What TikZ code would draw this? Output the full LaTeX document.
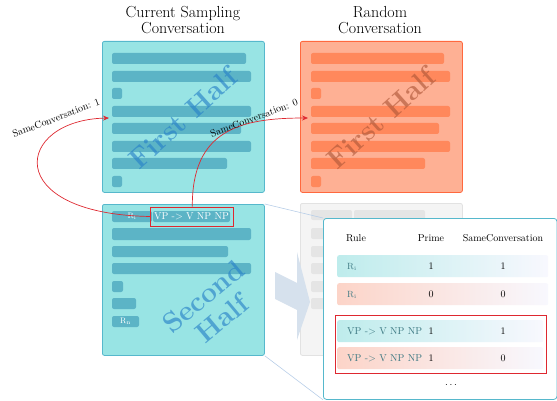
\documentclass[tikz,border=0pt]{standalone}
\usepackage{tikz}
\usetikzlibrary{arrows.meta}

\definecolor{tealfill}{RGB}{152,228,228}
\definecolor{tealbar}{RGB}{92,180,198}
\definecolor{tealline}{RGB}{86,184,204}
\definecolor{redfill}{RGB}{254,176,148}
\definecolor{redbar}{RGB}{255,136,92}
\definecolor{redline}{RGB}{255,104,62}
\definecolor{grayfill}{RGB}{244,244,244}
\definecolor{grayline}{RGB}{226,226,226}
\definecolor{graybar}{RGB}{229,229,229}
\definecolor{markred}{RGB}{222,40,48}
\definecolor{wmblue}{RGB}{40,130,200}
\definecolor{wmbrown}{RGB}{177,89,58}
\definecolor{zoomline}{RGB}{184,206,232}
\definecolor{bigarrow}{RGB}{214,225,237}
\definecolor{rowteal}{RGB}{190,236,236}
\definecolor{rowred}{RGB}{252,212,200}
\definecolor{rowend}{RGB}{248,248,254}
\definecolor{ruletext}{RGB}{60,120,130}

\begin{document}
\begin{tikzpicture}[x=1pt,y=-1pt,
  box/.style={rectangle,rounded corners=2pt,anchor=north west,line width=0.8pt,minimum width=162pt,minimum height=151pt},
  bar/.style={rounded corners=2pt},
  title/.style={align=center,inner sep=0pt,anchor=north,font={\fontsize{16}{15.6}\selectfont}},
  wmark/.style={align=center,inner sep=0pt,font={\fontsize{28}{29}\selectfont\bfseries},text opacity=0.65},
  tag/.style={inner sep=0pt,rotate=21},
  samearrow/.style={markred,line width=0.7pt,-{Stealth[length=6pt,width=5pt]}},
  row/.style={rectangle,rounded corners=2pt,anchor=north west,minimum height=22pt,inner sep=0pt},
  cell/.style={anchor=base,inner sep=0pt}]
\useasboundingbox (0,0) rectangle (557,401);

% titles
\node[title] (t1) at (183,6.3) {Current Sampling\\Conversation};
\node[title] (t2) at (380,6.3) {Random\\Conversation};

% the two conversations
\node[box,fill=tealfill,draw=tealline] (first) at (102,41) {};
\node[box,fill=tealfill,draw=tealline] (second) at (102,204) {};
\node[box,fill=redfill,draw=redline] (rand) at (300,41) {};

\fill[tealbar,bar] (112,53) rectangle (246,64);
\fill[tealbar,bar] (112,71) rectangle (251,82);
\fill[tealbar,bar] (112,88) rectangle (122,99);
\fill[tealbar,bar] (112,106) rectangle (251,117);
\fill[tealbar,bar] (112,123) rectangle (241,134);
\fill[tealbar,bar] (112,141) rectangle (251,152);
\fill[tealbar,bar] (112,158) rectangle (227,169);
\fill[tealbar,bar] (112,176) rectangle (122,187);

\fill[redbar,bar] (311,53) rectangle (444,64);
\fill[redbar,bar] (311,71) rectangle (450,82);
\fill[redbar,bar] (311,88) rectangle (321,99);
\fill[redbar,bar] (311,106) rectangle (450,117);
\fill[redbar,bar] (311,123) rectangle (439,134);
\fill[redbar,bar] (311,141) rectangle (450,152);
\fill[redbar,bar] (311,158) rectangle (425,169);
\fill[redbar,bar] (311,176) rectangle (321,187);

\node[bar,fill=tealbar,text=white,font=\footnotesize,minimum width=40pt,minimum height=11pt,inner sep=0pt] (ri) at (132,216.5) {R$_{\mathrm{i}}$};
\node[bar,fill=tealbar,text=white,minimum width=77pt,minimum height=11pt,inner sep=0pt] (vp) at (191.5,216.5) {VP -> V NP NP};
\fill[tealbar,bar] (112,228) rectangle (251,240);
\fill[tealbar,bar] (112,246) rectangle (228,257);
\fill[tealbar,bar] (112,263) rectangle (251,274);
\fill[tealbar,bar] (112,281) rectangle (123,292);
\fill[tealbar,bar] (112,298) rectangle (136,309);
\node[bar,fill=tealbar,text=white,font=\footnotesize,minimum width=27pt,minimum height=11pt,inner sep=0pt] (rn) at (125.5,321.5) {R$_{\mathrm{n}}$};

\node[wmark,text=wmblue,rotate=42] (wm1) at (183,118) {First Half};
\node[wmark,text=wmblue,rotate=40] (wm2) at (212.5,307.5) {Second\\Half};
\node[wmark,text=wmbrown,rotate=42] (wm3) at (381,118) {First Half};

% zoom into the table
\node[box,fill=grayfill,draw=grayline,minimum height=152pt] (prev) at (300,203) {};
\fill[graybar,bar] (311,210) rectangle (352,220);
\fill[graybar,bar] (354,210) rectangle (425,220);
\fill[graybar,bar] (311,228) rectangle (330,239);
\fill[graybar,bar] (311,246) rectangle (330,257);
\fill[graybar,bar] (311,263) rectangle (330,274);
\fill[graybar,bar] (311,281) rectangle (330,292);
\fill[graybar,bar] (311,298) rectangle (330,309);
\fill[bigarrow] (275,272) -- (297,283) -- (297,252) -- (310,302) -- (297,340) -- (297,310) -- (275,299) -- cycle;

\node[box,fill=white,draw=tealline,rounded corners=3pt,minimum width=233.5pt,minimum height=181pt] (tab) at (323,218) {};
\draw[zoomline,line width=0.6pt] (second.north east) -- (tab.north west);
\draw[zoomline,line width=0.6pt] (second.south east) -- (tab.south west);

\node[cell] (h1) at (356,241) {Rule};
\node[cell] (h2) at (431,241) {Prime};
\node[cell] (h3) at (503,241) {SameConversation};

\node[row,left color=rowteal,right color=rowend,minimum width=211pt] (row1) at (337,255) {};
\node[row,left color=rowred,right color=rowend,minimum width=211pt] (row2) at (337,283) {};
\node[row,left color=rowteal,right color=rowend,minimum width=206pt] (row3) at (337,320) {};
\node[row,left color=rowred,right color=rowend,minimum width=206pt] (row4) at (337,347) {};

\node[cell,anchor=base west,text=ruletext,font=\small] (c11) at (347,269.3) {R$_{\mathrm{i}}$};
\node[cell] (c12) at (431,269.3) {1};
\node[cell] (c13) at (503,269.3) {1};
\node[cell,anchor=base west,text=ruletext,font=\small] (c21) at (347,297.3) {R$_{\mathrm{i}}$};
\node[cell] (c22) at (431,297.3) {0};
\node[cell] (c23) at (503,297.3) {0};
\node[cell,anchor=base west,text=ruletext] (c31) at (347,334.3) {VP -> V NP NP};
\node[cell] (c32) at (431,334.3) {1};
\node[cell] (c33) at (503,334.3) {1};
\node[cell,anchor=base west,text=ruletext] (c41) at (347,361.3) {VP -> V NP NP};
\node[cell] (c42) at (431,361.3) {1};
\node[cell] (c43) at (503,361.3) {0};
\node[cell] (more) at (451,387) {$\cdots$};

\node[rectangle,draw=markred,line width=0.9pt,anchor=north west,minimum width=211pt,minimum height=58pt,inner sep=0pt] (sel) at (335,315) {};

% the two samples
\node[rectangle,draw=markred,line width=0.9pt,minimum width=83pt,minimum height=19pt,inner sep=0pt] (hl) at (192.3,216.5) {};
\coordinate (in1) at (109,118);
\coordinate (in2) at (308,118);
\draw[samearrow] (hl.west) .. controls (0,214) and (15,120) .. (in1);
\draw[samearrow] (hl.north) .. controls (192,130) and (240,118) .. (in2);
\node[tag] (lbl1) at (56,118) {SameConversation: 1};
\node[tag,rotate=-0.5] (lbl2) at (254,118) {SameConversation: 0};
\end{tikzpicture}
\end{document}
